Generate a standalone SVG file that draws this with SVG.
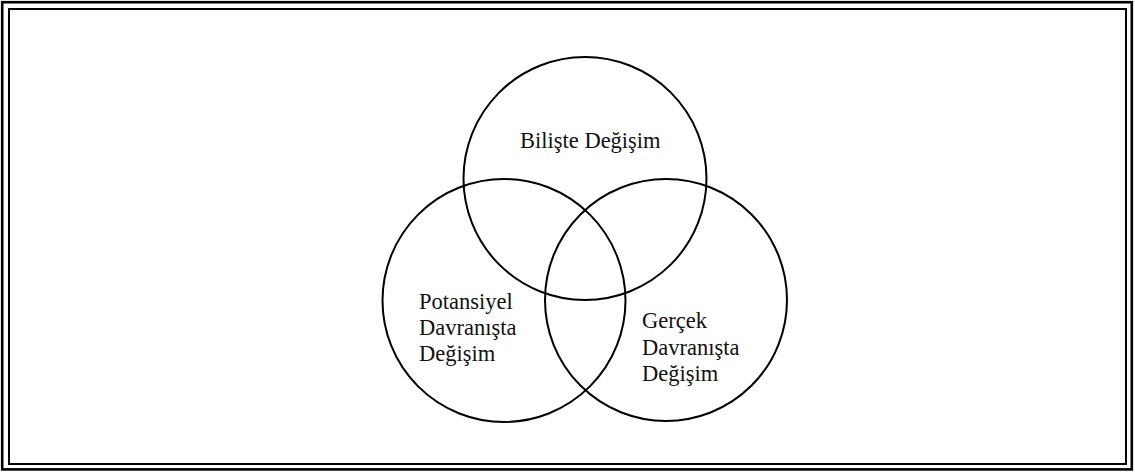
<svg xmlns="http://www.w3.org/2000/svg" width="1135" height="472" viewBox="0 0 1135 472">
<style>
.frame{fill:none;stroke:#000}
.c{fill:none;stroke:#000;stroke-width:2}
.t{font-family:"Liberation Serif","Times New Roman",serif;font-size:22.5px;fill:#111}
</style>
<rect width="1135" height="472" fill="#fff"/>
<rect class="frame" x="2.2" y="2.2" width="1129.6" height="467.2" stroke-width="2.6"/>
<rect class="frame" x="9" y="9" width="1117" height="455" stroke-width="2"/>
<g id="node-biliste">
<circle class="c" cx="585" cy="178.5" r="121.5"/>
<text class="t" x="520" y="148">Bilişte Değişim</text>
</g>
<g id="node-potansiyel">
<circle class="c" cx="504" cy="300.5" r="121.5"/>
<text class="t" x="419" y="309">Potansiyel</text>
<text class="t" x="419" y="335">Davranışta</text>
<text class="t" x="419" y="361">Değişim</text>
</g>
<g id="node-gercek">
<circle class="c" cx="666" cy="300" r="121"/>
<text class="t" x="642" y="328">Gerçek</text>
<text class="t" x="642" y="355">Davranışta</text>
<text class="t" x="642" y="381">Değişim</text>
</g>
<g id="connectors"></g>
</svg>
